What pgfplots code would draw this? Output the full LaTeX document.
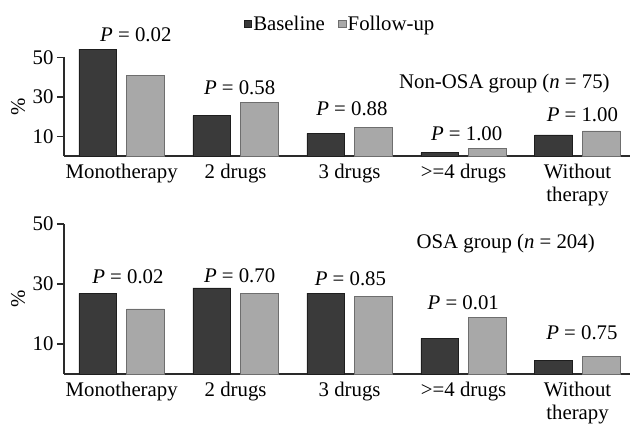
\documentclass[border=0pt]{standalone}
\usepackage{fontspec}
\setmainfont{Liberation Serif}
\usepackage{pgfplots}
\pgfplotsset{compat=1.18}
\newcommand{\lbl}{\fontsize{20.8}{23}\selectfont}
\definecolor{base}{HTML}{3A3A3A}
\definecolor{baseedge}{HTML}{1E1E1E}
\definecolor{fol}{HTML}{A8A8A8}
\definecolor{foledge}{HTML}{6E6E6E}
\definecolor{axc}{HTML}{2A2A2A}

\pgfplotstableread{
x base fol
0 54.3 40.8
1 20.5 27.4
2 11.5 14.7
3 1.7 4.0
4 10.7 12.7
}\nonosa
\pgfplotstableread{
x base fol
0 26.9 21.7
1 28.7 27.0
2 27.0 26.0
3 11.9 18.8
4 4.6 5.8
}\osa

\pgfplotsset{
 myax/.style={
  scale only axis, width=566pt, xmin=-0.506, xmax=4.46, ymin=0, ymax=50,
  axis lines=left, axis line style={-, line width=1.3pt, color=axc},
  ytick={10,30,50}, xtick={0,1,2,3,4},
  xticklabels={Monotherapy, 2 drugs, 3 drugs, {>=4 drugs}, {Without\\therapy}},
  x tick style={draw=none}, y tick style={line width=1.3pt, color=axc},
  major tick length=7pt, tick align=outside,
  ticklabel style={font=\lbl}, xticklabel style={align=center, yshift=2.5pt},
  /pgf/number format/assume math mode=true,
  ylabel={\%},
  every axis y label/.style={at={(axis description cs:-0.0813,0.5)}, rotate=90, anchor=center, font=\lbl},
  ybar=10pt, bar width=37.7pt, clip=false,
 },
 basest/.style={fill=base, draw=baseedge, line width=0.8pt,
   legend image code/.code={\draw[fill=base, draw=baseedge, line width=0.6pt] (0pt,-3.6pt) rectangle (7.2pt,3.6pt);}},
 folst/.style={fill=fol, draw=foledge, line width=0.8pt,
   legend image code/.code={\draw[fill=fol, draw=foledge, line width=0.6pt] (0pt,-3.6pt) rectangle (7.2pt,3.6pt);}},
}

\begin{document}
\begin{tikzpicture}
\useasboundingbox (0,0) rectangle (631pt,-423pt);
\begin{axis}[myax, height=98.5pt, at={(64pt,-156pt)}, anchor=south west,
  legend style={at={(axis description cs:0.318,1.34)}, anchor=west, draw=none, fill=none,
    inner sep=0pt, outer sep=0pt, font=\lbl, legend columns=2,
    nodes={inner sep=1.5pt},
    /tikz/every even column/.append style={column sep=12pt}},
  legend cell align=left]
\addplot[basest] table[x=x,y=base] {\nonosa};
\addplot[folst] table[x=x,y=fol] {\nonosa};
\legend{Baseline, Follow-up}
\node[font=\lbl] at (axis cs:0.124,61.4) {\textit{P} = 0.02};
\node[font=\lbl] at (axis cs:1.035,34.9) {\textit{P} = 0.58};
\node[font=\lbl] at (axis cs:2.02,24.2) {\textit{P} = 0.88};
\node[font=\lbl] at (axis cs:3.027,11.5) {\textit{P} = 1.00};
\node[font=\lbl] at (axis cs:4.042,20.8) {\textit{P} = 1.00};
\node[font=\lbl] at (axis cs:3.358,36.9) {Non-OSA group (\textit{n} = 75)};
\end{axis}
\begin{axis}[myax, height=150pt, at={(64pt,-374pt)}, anchor=south west]
\addplot[basest] table[x=x,y=base] {\osa};
\addplot[folst] table[x=x,y=fol] {\osa};
\node[font=\lbl] at (axis cs:0.055,32.5) {\textit{P} = 0.02};
\node[font=\lbl] at (axis cs:1.035,32.7) {\textit{P} = 0.70};
\node[font=\lbl] at (axis cs:2.007,31.9) {\textit{P} = 0.85};
\node[font=\lbl] at (axis cs:2.997,23.6) {\textit{P} = 0.01};
\node[font=\lbl] at (axis cs:4.038,13.9) {\textit{P} = 0.75};
\node[font=\lbl] at (axis cs:3.369,43.6) {OSA group (\textit{n} = 204)};
\end{axis}
\end{tikzpicture}
\end{document}
